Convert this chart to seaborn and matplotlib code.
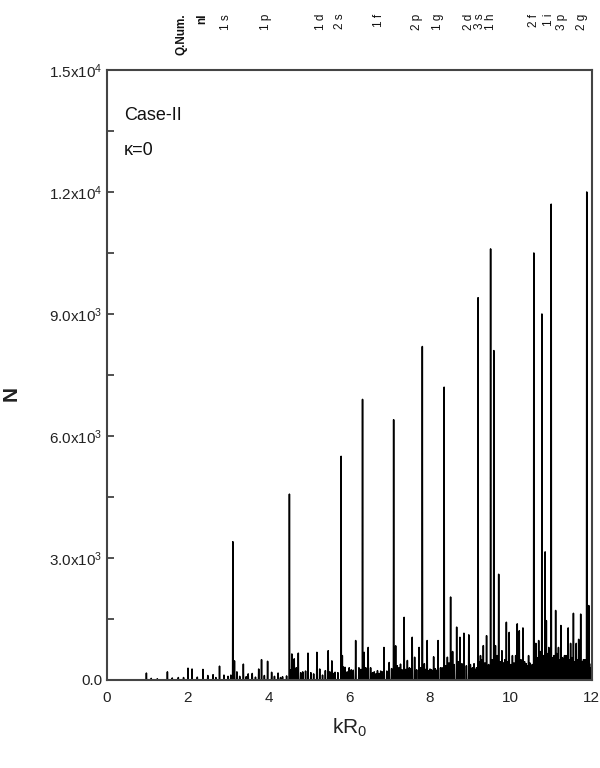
import numpy as np
import pandas as pd
import matplotlib
matplotlib.use("Agg")
import matplotlib.pyplot as plt
from matplotlib.ticker import MultipleLocator, FixedLocator
import seaborn as sns

# ---------------- data ----------------
major_x = [3.12, 4.52, 5.80, 6.33, 7.10, 7.81, 8.35, 9.19, 9.50, 9.58,
           10.57, 10.77, 11.00, 11.88]
major_n = [3400, 4570, 5500, 6900, 6400, 8200, 7200, 9400, 10600, 8100,
           10500, 9000, 11700, 12000]

minor_x = [0.98, 1.50, 1.77, 2.01, 2.11, 2.38, 2.50, 2.63, 2.79, 2.90, 3.00,
           3.16, 3.38, 3.50, 3.60, 3.76, 3.83, 3.98, 4.08, 4.24, 4.35, 4.58,
           4.64, 4.74, 4.85, 4.98, 5.05, 5.20, 5.27, 5.41, 5.48, 5.57, 5.65,
           5.83, 5.90, 6.00, 6.05, 6.16, 6.24, 6.37, 6.47, 6.53, 6.62, 6.70,
           6.78, 6.86, 6.99, 7.15, 7.27, 7.36, 7.44, 7.56, 7.62, 7.73, 7.86,
           7.93, 8.00, 8.09, 8.20, 8.26, 8.43, 8.51, 8.56, 8.66, 8.74, 8.84,
           8.96, 9.05, 9.12, 9.25, 9.32, 9.40, 9.62, 9.70, 9.78, 9.89, 9.96,
           10.04, 10.16, 10.21, 10.30, 10.38, 10.44, 10.50, 10.62, 10.69,
           10.85, 10.88, 10.94, 11.11, 11.18, 11.24, 11.33, 11.42, 11.48,
           11.55, 11.62, 11.68, 11.73, 11.80, 11.93, 11.97]
minor_n = [170, 200, 60, 290, 270, 260, 110, 130, 340, 120, 90,
           470, 390, 150, 160, 270, 500, 460, 190, 170, 80, 640,
           520, 660, 200, 660, 180, 680, 270, 230, 720, 470, 190,
           600, 310, 300, 250, 970, 300, 680, 800, 300, 200, 230,
           220, 800, 430, 840, 390, 1540, 480, 1050, 560, 800, 400,
           970, 270, 570, 970, 300, 560, 2040, 700, 1300, 1050, 1150,
           1110, 300, 250, 600, 845, 1090, 845, 2600, 720, 1420, 1170,
           600, 1380, 1210, 1280, 400, 600, 300, 900, 970,
           3150, 1460, 800, 1710, 800, 1340, 600, 1280, 900,
           1640, 900, 1000, 1620, 500, 1830, 300]

# low "grass" between spikes (read roughly from the dense band at the bottom)
grass_x = [1.10, 1.25, 1.62, 1.90, 2.24, 2.70, 3.07, 3.22, 3.29, 3.45, 3.68,
           3.90, 4.15, 4.30, 4.45, 4.55, 4.69, 4.80, 4.92, 5.12, 5.34, 5.52,
           5.61, 5.72, 5.86, 5.95, 6.10, 6.29, 6.41, 6.58, 6.66, 6.74, 6.82,
           6.93, 7.05, 7.19, 7.23, 7.31, 7.40, 7.49, 7.52, 7.67, 7.77, 7.89,
           7.97, 8.04, 8.13, 8.16, 8.30, 8.39, 8.47, 8.60, 8.70, 8.79, 8.90,
           9.00, 9.09, 9.15, 9.22, 9.28, 9.36, 9.45, 9.54, 9.66, 9.74, 9.82,
           9.85, 9.93, 10.00, 10.08, 10.12, 10.25, 10.34, 10.41, 10.47, 10.53,
           10.60, 10.65, 10.73, 10.81, 10.91, 10.97, 11.04, 11.07, 11.14,
           11.21, 11.28, 11.30, 11.37, 11.45, 11.51, 11.58, 11.65, 11.70,
           11.77, 11.84, 11.91, 11.95]
grass_n = [40, 30, 50, 60, 70, 60, 120, 200, 90, 80, 70,
           110, 90, 60, 100, 250, 300, 180, 220, 150, 120, 200,
           160, 180, 320, 200, 240, 260, 300, 180, 150, 160, 200,
           220, 280, 350, 300, 250, 260, 300, 280, 250, 300, 260,
           230, 250, 280, 240, 300, 350, 420, 380, 450, 400, 350,
           380, 400, 300, 450, 500, 420, 380, 500, 600, 450, 420,
           500, 450, 380, 420, 600, 500, 450, 350, 420, 380,
           500, 550, 700, 600, 650, 500, 550, 600, 650,
           500, 550, 450, 600, 500, 550, 450, 500, 550,
           450, 500, 600, 400]

qnum_labels = ["Q.Num.", "nl", "1 s", "1 p", "1 d", "2 s", "1 f", "2 p", "1 g",
               "2 d", "3 s", "1 h", "2 f", "1 i", "3 p", "2 g"]
qnum_x = [1.84, 2.36, 2.94, 3.94, 5.31, 5.77, 6.74, 7.68, 8.19,
          8.97, 9.24, 9.52, 10.57, 10.94, 11.26, 11.75]

ytick_vals = [0, 3000, 6000, 9000, 12000, 15000]
ytick_labels = [r"0.0", r"$\mathregular{3.0x10^3}$", r"$\mathregular{6.0x10^3}$",
                r"$\mathregular{9.0x10^3}$", r"$\mathregular{1.2x10^4}$",
                r"$\mathregular{1.5x10^4}$"]
xtick_vals = [0, 2, 4, 6, 8, 10, 12]

# ---------------- build trace ----------------
spk_x = np.array(major_x + minor_x + grass_x)
spk_n = np.array(major_n + minor_n + grass_n)
order = np.argsort(spk_x)
spk_x, spk_n = spk_x[order], spk_n[order]
w = 0.006
tx, ty = [0.0], [0.0]
for xx, nn in zip(spk_x, spk_n):
    tx += [xx - w, xx, xx + w]
    ty += [0.0, nn, 0.0]
tx.append(12.0)
ty.append(0.0)
df = pd.DataFrame({"kR0": tx, "N": ty})

# ---------------- plot ----------------
sns.set_theme(style="ticks")
plt.rcParams["font.family"] = ["Liberation Sans", "DejaVu Sans"]
plt.rcParams["mathtext.fontset"] = "custom"
plt.rcParams["mathtext.rm"] = "Liberation Sans"

fig = plt.figure(figsize=(6.0, 7.68), dpi=100)
ax = fig.add_axes([0.178, 0.1146, 0.808, 0.7943])

sns.lineplot(data=df, x="kR0", y="N", sort=False, estimator=None,
             color="black", linewidth=1.1, ax=ax)

ax.set_xlim(0, 12)
ax.set_ylim(0, 15000)
ax.xaxis.set_major_locator(FixedLocator(xtick_vals))
ax.set_xticklabels([str(v) for v in xtick_vals])
ax.yaxis.set_major_locator(FixedLocator(ytick_vals))
ax.set_yticklabels(ytick_labels)
ax.yaxis.set_minor_locator(MultipleLocator(1500))
ax.tick_params(axis="both", which="both", direction="in", labelsize=11,
               colors="#333333", labelcolor="#222222")
ax.tick_params(axis="y", which="major", length=5, width=1.2)
ax.tick_params(axis="y", which="minor", length=5, width=1.2)
ax.tick_params(axis="x", which="major", length=0, pad=8)
ax.tick_params(axis="y", pad=3)

for s in ax.spines.values():
    s.set_color("#444444")
    s.set_linewidth(1.5)

ax.set_xlabel(r"kR$_0$", fontsize=15, color="#222222", labelpad=8)
ax.set_ylabel("N", fontsize=15, fontweight="bold", color="#222222")
ax.yaxis.set_label_coords(-0.178, 0.47)

ax.text(0.035, 0.925, "Case-II", transform=ax.transAxes, fontsize=13,
        color="#111111", ha="left", va="center")
ax.text(0.035, 0.868, "κ=0", transform=ax.transAxes, fontsize=13,
        color="#111111", ha="left", va="center")

for lab, xv in zip(qnum_labels, qnum_x):
    bold = lab in ("Q.Num.", "nl")
    ax.text(xv, 1.092, lab, transform=ax.get_xaxis_transform(),
            rotation=90, ha="center", va="top", fontsize=8.5,
            fontweight="bold" if bold else "normal", color="#111111")

fig.savefig("out.png", dpi=100, facecolor="white")
